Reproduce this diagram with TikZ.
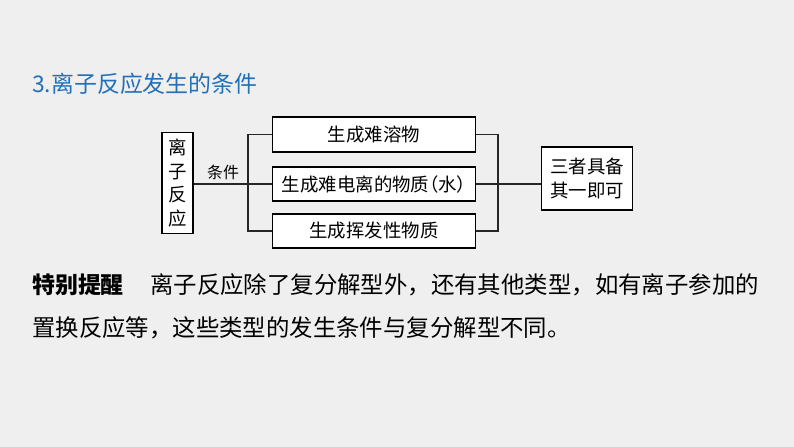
\documentclass[tikz,border=0pt]{standalone}
\usepackage{fontspec}
\newfontfamily\cjk{Noto Sans CJK SC}
\newfontfamily\cjkhalt[RawFeature=+halt]{Noto Sans CJK SC}
\definecolor{bgGray}{HTML}{EFEFEF}
\definecolor{titleBlue}{HTML}{2270B8}
\begin{document}
\begin{tikzpicture}[
       x=1bp, y=-1bp,
       box_style/.style={draw, black, line width=1.3bp, fill=white, inner sep=0pt,
                         font=\cjk\fontsize{18.5}{24}\selectfont, align=center}, % 方框:黑色边框、白底
       line_style/.style={draw, black!85, line width=1.2bp} % 连线:细黑线
   ]

   % 1. 背景(794x447,浅灰)
   \fill[bgGray] (0,0) rectangle (794,447);
   \useasboundingbox (0,0) rectangle (794,447);

   % 2. 标题
   \node[anchor=west, text=titleBlue, inner sep=0pt, font=\cjk\fontsize{23}{27}\selectfont]
        (title) at (32,84) {3.离子反应发生的条件};

   % 3. 方框
   \node[box_style, minimum width=31, minimum height=102] (ion) at (177.5,183) {离\\子\\反\\应};
   \node[box_style, minimum width=204, minimum height=35] (sol) at (374,134.5) {生成难溶物};
   \node[box_style, minimum width=204, minimum height=34,
         font=\cjkhalt\fontsize{18.5}{24}\selectfont] (weak) at (374,184) {生成难电离的物质（水）};
   \node[box_style, minimum width=204, minimum height=34] (vol) at (374,231) {生成挥发性物质};
   \node[box_style, minimum width=92, minimum height=63] (res) at (587,178.5) {三者具备\\其一即可};

   % 4. 连线(左侧分叉点 jl,右侧汇合点 jr)
   \coordinate (jl) at (248,184);
   \coordinate (jr) at (498,184);
   \draw[line_style] (ion.east |- weak.west) -- (weak.west);
   \draw[line_style] (sol.west) -| (jl) |- (vol.west);
   \draw[line_style] (sol.east) -| (jr) |- (vol.east);
   \draw[line_style] (weak.east) -- (weak.east -| res.west);
   \node[font=\cjk\fontsize{16}{18}\selectfont, inner sep=0pt] (cond) at (223,172) {条件};

   % 5. 特别提醒
   \node[anchor=west, inner sep=0pt, font=\cjk\fontsize{23}{28}\selectfont\bfseries]
        (tip) at (32,285) {特别提醒};
   \node[anchor=west, inner sep=0pt, font=\cjk\fontsize{23.5}{28}\selectfont]
        (tip1) at (150,285) {离子反应除了复分解型外，还有其他类型，如有离子参加的};
   \node[anchor=west, inner sep=0pt, font=\cjk\fontsize{23.5}{28}\selectfont]
        (tip2) at (32,328) {置换反应等，这些类型的发生条件与复分解型不同。};

   \end{tikzpicture}
\end{document}
